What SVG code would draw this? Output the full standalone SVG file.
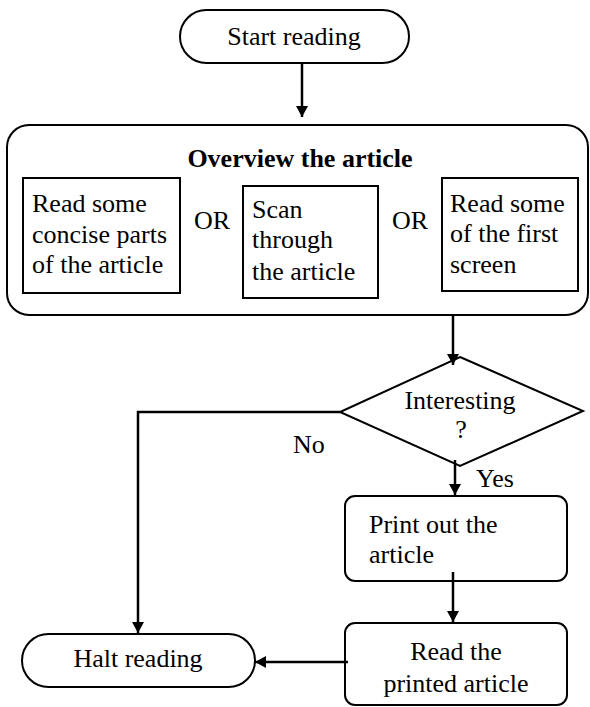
<svg xmlns="http://www.w3.org/2000/svg" width="590" height="707" viewBox="0 0 590 707">
<style>
.s{fill:#fff;stroke:#000;stroke-width:2}
text{font-family:'Liberation Serif','Times New Roman',serif;font-size:26px;fill:#000}
.b{font-weight:bold}
.c{fill:none;stroke:#000;stroke-width:2.5}
</style>
<defs>
<marker id="ah" markerUnits="userSpaceOnUse" markerWidth="14" markerHeight="12" refX="11" refY="6" orient="auto">
<path d="M0,0 L11,6 L0,12 Z" fill="#000"/>
</marker>
</defs>
<rect width="590" height="707" fill="#fff"/>
<g id="start">
<rect class="s" x="180" y="10" width="229" height="53" rx="26.5"/>
<text x="294" y="45" text-anchor="middle">Start reading</text>
</g>
<g id="overview">
<rect class="s" x="7" y="125" width="581" height="190" rx="22"/>
<text class="b" x="300" y="167" text-anchor="middle">Overview the article</text>
<rect class="s" x="23" y="178" width="157" height="115"/>
<text x="32" y="212">Read some</text>
<text x="32" y="243">concise parts</text>
<text x="32" y="273">of the article</text>
<text x="194" y="229">OR</text>
<rect class="s" x="243" y="186" width="135" height="112"/>
<text x="252" y="218">Scan</text>
<text x="252" y="248">through</text>
<text x="252" y="280">the article</text>
<text x="392" y="229">OR</text>
<rect class="s" x="442" y="178" width="136" height="113"/>
<text x="450" y="212">Read some</text>
<text x="450" y="242">of the first</text>
<text x="450" y="273">screen</text>
</g>
<g id="decision">
<polygon class="s" points="460,357 583,411 460,466 340,412"/>
<text x="460" y="409" text-anchor="middle">Interesting</text>
<text x="461" y="438" text-anchor="middle">?</text>
</g>
<g id="print">
<rect class="s" x="345" y="496" width="222" height="85" rx="10"/>
<text x="369" y="533">Print out the</text>
<text x="369" y="563">article</text>
</g>
<g id="read">
<rect class="s" x="345" y="623" width="222" height="82" rx="10"/>
<text x="456" y="660" text-anchor="middle">Read the</text>
<text x="456" y="692" text-anchor="middle">printed article</text>
</g>
<g id="halt">
<rect class="s" x="22" y="634" width="233" height="53" rx="26.5"/>
<text x="138" y="667" text-anchor="middle">Halt reading</text>
</g>
<g id="connectors">
<line class="c" x1="302" y1="63" x2="302" y2="117" marker-end="url(#ah)"/>
<line class="c" x1="453" y1="315" x2="453" y2="365" marker-end="url(#ah)"/>
<line class="c" x1="455" y1="460" x2="455" y2="495" marker-end="url(#ah)"/>
<line class="c" x1="453" y1="572" x2="453" y2="622" marker-end="url(#ah)"/>
<polyline class="c" points="340,412 138,412 138,633" marker-end="url(#ah)"/>
<line class="c" x1="348" y1="662" x2="255" y2="662" marker-end="url(#ah)"/>
<text x="293" y="453">No</text>
<text x="476" y="487">Yes</text>
</g>
</svg>
